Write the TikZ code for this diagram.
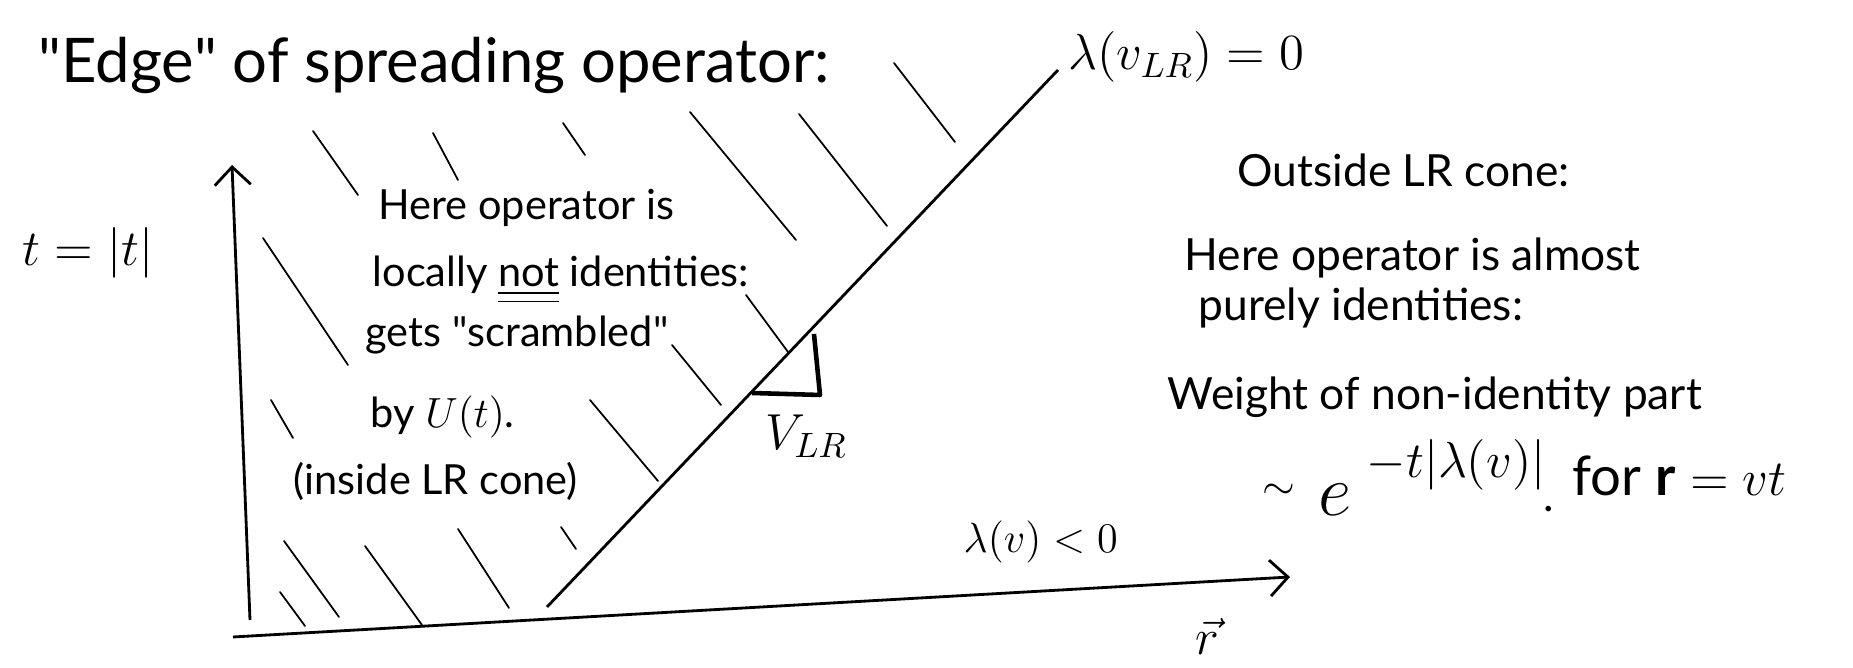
\documentclass[tikz,border=0pt]{standalone}
\usepackage{amsmath}
\usepackage{amssymb}
\usepackage{fontspec}
\setmainfont{Lato}
\usetikzlibrary{arrows.meta}

\begin{document}
\begin{tikzpicture}[x=0.01cm, y=-0.01cm,
    >={Straight Barb[length=1.8mm,width=3.6mm]},
    hatch/.style={line width=0.5pt, line cap=round},
    axis/.style={line width=0.8pt},
    bigtxt/.style={anchor=base west, inner sep=0pt, font=\fontsize{14}{17}\selectfont},
    txt/.style={anchor=base west, inner sep=0pt, font=\fontsize{11.8}{14}\selectfont},
    outtxt/.style={anchor=base west, inner sep=0pt, font=\fontsize{12.6}{15}\selectfont}]
    \useasboundingbox (0,0) rectangle (1853,668);

    % axes and the cone edge
    \coordinate (tbot) at (250,620);
    \coordinate (ttop) at (232,165);
    \coordinate (rleft) at (233,637);
    \coordinate (rtip) at (1290,577);
    \coordinate (conebot) at (547,607);
    \coordinate (conetop) at (1058,70);
    \draw[->, axis] (tbot) -- (ttop);
    \draw[->, axis] (rleft) -- (rtip);
    \draw[axis] (conebot) -- (conetop);

    % slope mark
    \coordinate (slopea) at (752,393);
    \coordinate (slopeb) at (820,395);
    \coordinate (slopec) at (814,334);
    \draw[line width=1.3pt, line join=round] (slopea) -- (slopeb) -- (slopec);

    % hatching inside the cone
    \draw[hatch] (313,131) -- (358,195);
    \draw[hatch] (433,133) -- (458,180);
    \draw[hatch] (563,123) -- (585,155);
    \draw[hatch] (690,112) -- (796,240);
    \draw[hatch] (799,114) -- (887,226);
    \draw[hatch] (894,63) -- (955,142);
    \draw[hatch] (263,238) -- (348,365);
    \draw[hatch] (271,400) -- (293,438);
    \draw[hatch] (746,295) -- (788,352);
    \draw[hatch] (672,345) -- (721,405);
    \draw[hatch] (590,400) -- (658,481);
    \draw[hatch] (561,527) -- (576,549);
    \draw[hatch] (284,541) -- (339,617);
    \draw[hatch] (280,592) -- (305,626);
    \draw[hatch] (365,546) -- (422,625);
    \draw[hatch] (458,529) -- (509,608);

    % labels
    \node[bigtxt, font=\fontsize{17.5}{20}\selectfont] (title) at (38,83)
        {\textquotedbl Edge\textquotedbl\ of spreading operator:};
    \node[bigtxt] (edgelam) at (1068,70) {$\lambda(v_{LR})=0$};
    \node[bigtxt, font=\fontsize{15}{18}\selectfont] (tlabel) at (22,266) {$t=|t|$};
    \node[bigtxt] (vlr) at (765,450) {$V_{LR}$};
    \node[bigtxt, font=\fontsize{13}{16}\selectfont] (lamneg) at (963,553) {$\lambda(v)<0$};
    \node[bigtxt] (rvec) at (1195,655) {$\vec{r}$};

    % inside the cone
    \node[txt] (herea) at (378,220) {Here operator is};
    \node[txt] (hereb) at (372,287) {locally \underline{\underline{not}} identities:};
    \node[txt] (herec) at (365,347) {gets \textquotedbl scrambled\textquotedbl};
    \node[txt] (hered) at (370,428) {by $U(t)$.};
    \node[txt] (heree) at (293,495) {(inside LR cone)};

    % outside the cone
    \node[outtxt] (outa) at (1237,187) {Outside LR cone:};
    \node[outtxt] (outb) at (1184,271) {Here operator is almost};
    \node[outtxt] (outc) at (1198,321) {purely identities:};
    \node[outtxt] (outd) at (1167,410) {Weight of non-identity part};
    \node[outtxt] (tilde) at (1262,500) {$\sim$};
    \node[bigtxt, font=\fontsize{21}{24}\selectfont] (enode) at (1318,516) {$e$};
    \node[bigtxt, font=\fontsize{14.5}{17}\selectfont] (expo) at (1366,478) {$-t|\lambda(v)|$};
    \node[outtxt] (dotnode) at (1543,512) {.};
    \node[bigtxt, font=\fontsize{15.5}{18}\selectfont] (forrvt) at (1572,496) {for $\mathbf{r}=vt$};
\end{tikzpicture}
\end{document}
